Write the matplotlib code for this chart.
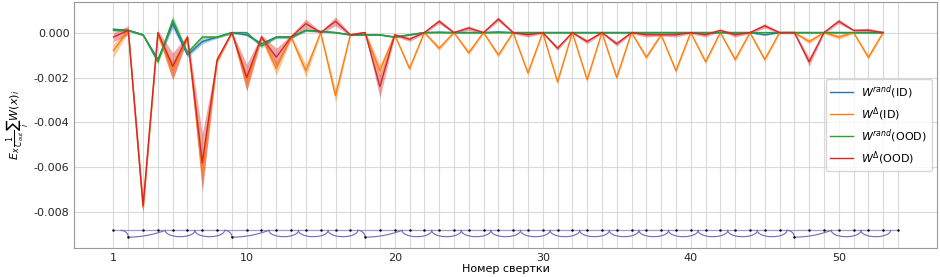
import numpy as np
import matplotlib
matplotlib.use('Agg')
from matplotlib import pyplot as plt

# layer index (1..53 conv layers), diagram goes to 54 (fc)
layers = list(range(1, 54))

rand_id = [0.00015, 0.0001, -0.0001, -0.0012, 0.0004, -0.0010, -0.0004, -0.0002, 0.0, -0.0001,
           -0.0005, -0.0002, -0.0002, 0.0001, 0.00005, 0.0, -0.0001, -0.0001, -0.0001, -0.0002,
           -0.0001, 0.0, 0.00002, 0.0, 0.0, 0.0, 0.00003, 0.0, 0.0, 0.0,
           0.0, 0.0, 0.0, 0.0, 0.0, 0.0, 0.0, 0.0, 0.0, 0.0,
           0.0, 0.0, 0.0, 0.0, -0.0001, 0.0, 0.0, 0.0, 0.0, 0.0,
           0.0, 0.0, 0.0]
delta_id = [-0.0008, 0.0001, -0.0078, -0.0001, -0.0017, -0.0002, -0.0062, -0.0013, 0.0, -0.0022,
            -0.0002, -0.0016, -0.0002, -0.0017, 0.0, -0.0028, -0.0001, 0.0, -0.0017, -0.0001,
            -0.0016, 0.0, -0.0007, 0.0, -0.0009, 0.0, -0.0010, 0.0, -0.0018, 0.0,
            -0.0022, 0.0, -0.0021, 0.0, -0.0020, 0.0, -0.0011, -0.0001, -0.0017, 0.0,
            -0.0013, 0.0, -0.0012, 0.0, -0.0012, 0.0, 0.0, -0.0004, 0.0, -0.0002,
            0.0, -0.0011, 0.0]
rand_ood = [0.0001, 0.0001, -0.0001, -0.0013, 0.00055, -0.0009, -0.0002, -0.0002, 0.0, 0.0,
            -0.0006, -0.0002, -0.0002, 0.0001, 0.00005, 0.0, -0.0001, -0.0001, -0.0001, -0.0002,
            -0.0001, 0.0, 0.0, 0.0, 0.0, 0.0, 0.0, 0.0, 0.0, 0.0,
            0.0, 0.0, 0.0, 0.0, 0.0, 0.0, 0.0, 0.0, 0.0, 0.0,
            0.0, 0.0, 0.0, 0.0, 0.0, 0.0, 0.0, 0.0, 0.0, 0.0,
            0.0, 0.0, 0.0]
delta_ood = [-0.0002, 0.0001, -0.0077, 0.0, -0.0015, -0.0002, -0.0058, -0.0012, 0.0, -0.0020,
             -0.0002, -0.0011, -0.0002, 0.0004, 0.0, 0.0005, -0.0001, 0.0, -0.0024, -0.0001,
             -0.0003, 0.0, 0.0005, 0.0, 0.0002, 0.0, 0.0006, 0.0, -0.0001, 0.0,
             -0.0007, 0.0, -0.0004, 0.0, -0.0005, 0.0, -0.0001, -0.0001, -0.0001, 0.0,
             -0.0001, 0.0001, -0.0001, 0.0, 0.0003, 0.0, 0.0, -0.0013, 0.0, 0.0005,
             0.0001, 0.0001, 0.0]

# spread (std) of each series
rand_id_std = [0.00005, 0.00005, 0.00005, 0.0001, 0.0002, 0.0001, 0.0001, 0.00005, 0.00005, 0.00005,
               0.00008, 0.00005, 0.00005, 0.00005, 0.00003, 0.00003, 0.00003, 0.00003, 0.00003, 0.00003,
               0.00003, 0.00003, 0.00003, 0.00003, 0.00003, 0.00003, 0.00003, 0.00003, 0.00003, 0.00003,
               0.00003, 0.00003, 0.00003, 0.00003, 0.00003, 0.00003, 0.00003, 0.00003, 0.00003, 0.00003,
               0.00003, 0.00003, 0.00003, 0.00003, 0.00003, 0.00003, 0.00003, 0.00003, 0.00003, 0.00003,
               0.00003, 0.00003, 0.00003]
delta_id_std = [0.0003, 0.0001, 0.0003, 0.0001, 0.0004, 0.0001, 0.0007, 0.0001, 0.00005, 0.0004,
                0.0001, 0.0003, 0.0001, 0.0003, 0.00005, 0.0003, 0.00005, 0.00005, 0.0003, 0.00005,
                0.0001, 0.00005, 0.0001, 0.00005, 0.0001, 0.00005, 0.0001, 0.00005, 0.0001, 0.00005,
                0.0001, 0.00005, 0.0001, 0.00005, 0.0001, 0.00005, 0.0001, 0.00005, 0.0001, 0.00005,
                0.0001, 0.00005, 0.0001, 0.00005, 0.0001, 0.00005, 0.00005, 0.0001, 0.00005, 0.0001,
                0.00005, 0.0001, 0.00005]
rand_ood_std = [0.00005, 0.00005, 0.00005, 0.0001, 0.0002, 0.0001, 0.00008, 0.00005, 0.00005, 0.00005,
                0.00008, 0.00005, 0.00005, 0.00005, 0.00003, 0.00003, 0.00003, 0.00003, 0.00003, 0.00003,
                0.00003, 0.00003, 0.00003, 0.00003, 0.00003, 0.00003, 0.00003, 0.00003, 0.00003, 0.00003,
                0.00003, 0.00003, 0.00003, 0.00003, 0.00003, 0.00003, 0.00003, 0.00003, 0.00003, 0.00003,
                0.00003, 0.00003, 0.00003, 0.00003, 0.00003, 0.00003, 0.00003, 0.00003, 0.00003, 0.00003,
                0.00003, 0.00003, 0.00003]
delta_ood_std = [0.0002, 0.0002, 0.0003, 0.0001, 0.0006, 0.0001, 0.0013, 0.0001, 0.00005, 0.0006,
                 0.0001, 0.0004, 0.0001, 0.0002, 0.00005, 0.0002, 0.00005, 0.00005, 0.0005, 0.00005,
                 0.0001, 0.00005, 0.0001, 0.00005, 0.0001, 0.00005, 0.0001, 0.00005, 0.0001, 0.00005,
                 0.0001, 0.00005, 0.0001, 0.00005, 0.0001, 0.00005, 0.0001, 0.00005, 0.0001, 0.00005,
                 0.0001, 0.00005, 0.0001, 0.00005, 0.0001, 0.00005, 0.00005, 0.0002, 0.00005, 0.0001,
                 0.00005, 0.0001, 0.00005]

labels = ['$W^{rand}$(ID)', '$W^{\\Delta}$(ID)', '$W^{rand}$(OOD)', '$W^{\\Delta}$(OOD)']
colors = ['tab:blue', 'tab:orange', 'tab:green', 'tab:red']

# network scheme drawn under the curves
n_nodes = 54
downsample = [2, 9, 18, 47]
merge_after = [4.5, 11.5, 20.5, 49.5]
skip_arcs = [(4.5, 6.5), (6.5, 8.5),
             (11.5, 13.5), (13.5, 15.5), (15.5, 17.5)] + \
            [(a, a + 2) for a in np.arange(20.5, 45, 2)] + \
            [(49.5, 51.5), (51.5, 53.5)]
y_main = -0.0088
y_low = -0.0091

plt.rcParams['font.size'] = 8

fig, ax = plt.subplots(figsize=(9.4, 2.77), dpi=100)
fig.subplots_adjust(left=0.079, right=0.997, bottom=0.105, top=0.992)

series = [(rand_id, rand_id_std), (delta_id, delta_id_std), (rand_ood, rand_ood_std), (delta_ood, delta_ood_std)]
x = np.array(layers)
for (m, s), c, lab in zip(series, colors, labels):
    m = np.array(m)
    s = np.array(s)
    ax.fill_between(x, m - s, m + s, color=c, alpha=0.4, lw=0)
    ax.plot(x, m, color=c, lw=1, label=lab)

# scheme
line_c = '#6b6bb5'
ax.plot([1, n_nodes], [y_main, y_main], color='#9a9ad0', lw=0.9, zorder=3)
top_nodes = [i for i in range(1, n_nodes + 1) if i not in downsample]
ax.scatter(top_nodes, [y_main] * len(top_nodes), s=3, color='black', linewidths=0, zorder=5)
ax.scatter(downsample, [y_low] * len(downsample), s=3, color='black', linewidths=0, zorder=5)
t = np.linspace(0, np.pi, 60)
for a, b in skip_arcs:
    c0 = (a + b) / 2
    r = (b - a) / 2
    ax.plot(c0 - r * np.cos(t), y_main - (y_main - y_low - 0.00002) * np.sin(t), color=line_c, lw=0.8, zorder=4)
for d, mrg in zip(downsample, merge_after):
    tt = np.linspace(0, np.pi / 2, 30)
    ax.plot(d - 0.5 + 0.5 * np.sin(tt), y_main - (y_main - y_low) * (1 - np.cos(tt)), color=line_c, lw=0.8, zorder=4)
    u = np.linspace(0, 1, 40)
    ax.plot(d + (mrg - d) * u, y_low + (y_main - y_low) * u ** 2, color=line_c, lw=0.8, zorder=4)

ax.axvline(28, color='0.7', lw=0.8, zorder=0)

ax.set_ylim(-0.00958, 0.00135)
ax.set_xticks([1, 10, 20, 30, 40, 50])
ax.set_xticks(range(1, n_nodes + 1), minor=True)
ax.set_yticks([0, -0.002, -0.004, -0.006, -0.008])
ax.yaxis.set_major_formatter(matplotlib.ticker.FormatStrFormatter('%.3f'))
ax.grid(True, which='both', axis='x', color='0.85', lw=0.8)
ax.grid(True, which='major', axis='y', color='0.85', lw=0.8)
ax.set_axisbelow(True)
ax.tick_params(which='both', length=0, colors='0.15')
for sp in ax.spines.values():
    sp.set_color('0.6')

ax.set_xlabel('Номер свертки', labelpad=1)
ax.set_ylabel('$E_x\\,\\frac{1}{C_{out}}\\sum_i W(x)_i$', labelpad=2)
ax.legend(loc='center right', fontsize=8, labelspacing=0.4)

plt.savefig('out.png', dpi=100)
